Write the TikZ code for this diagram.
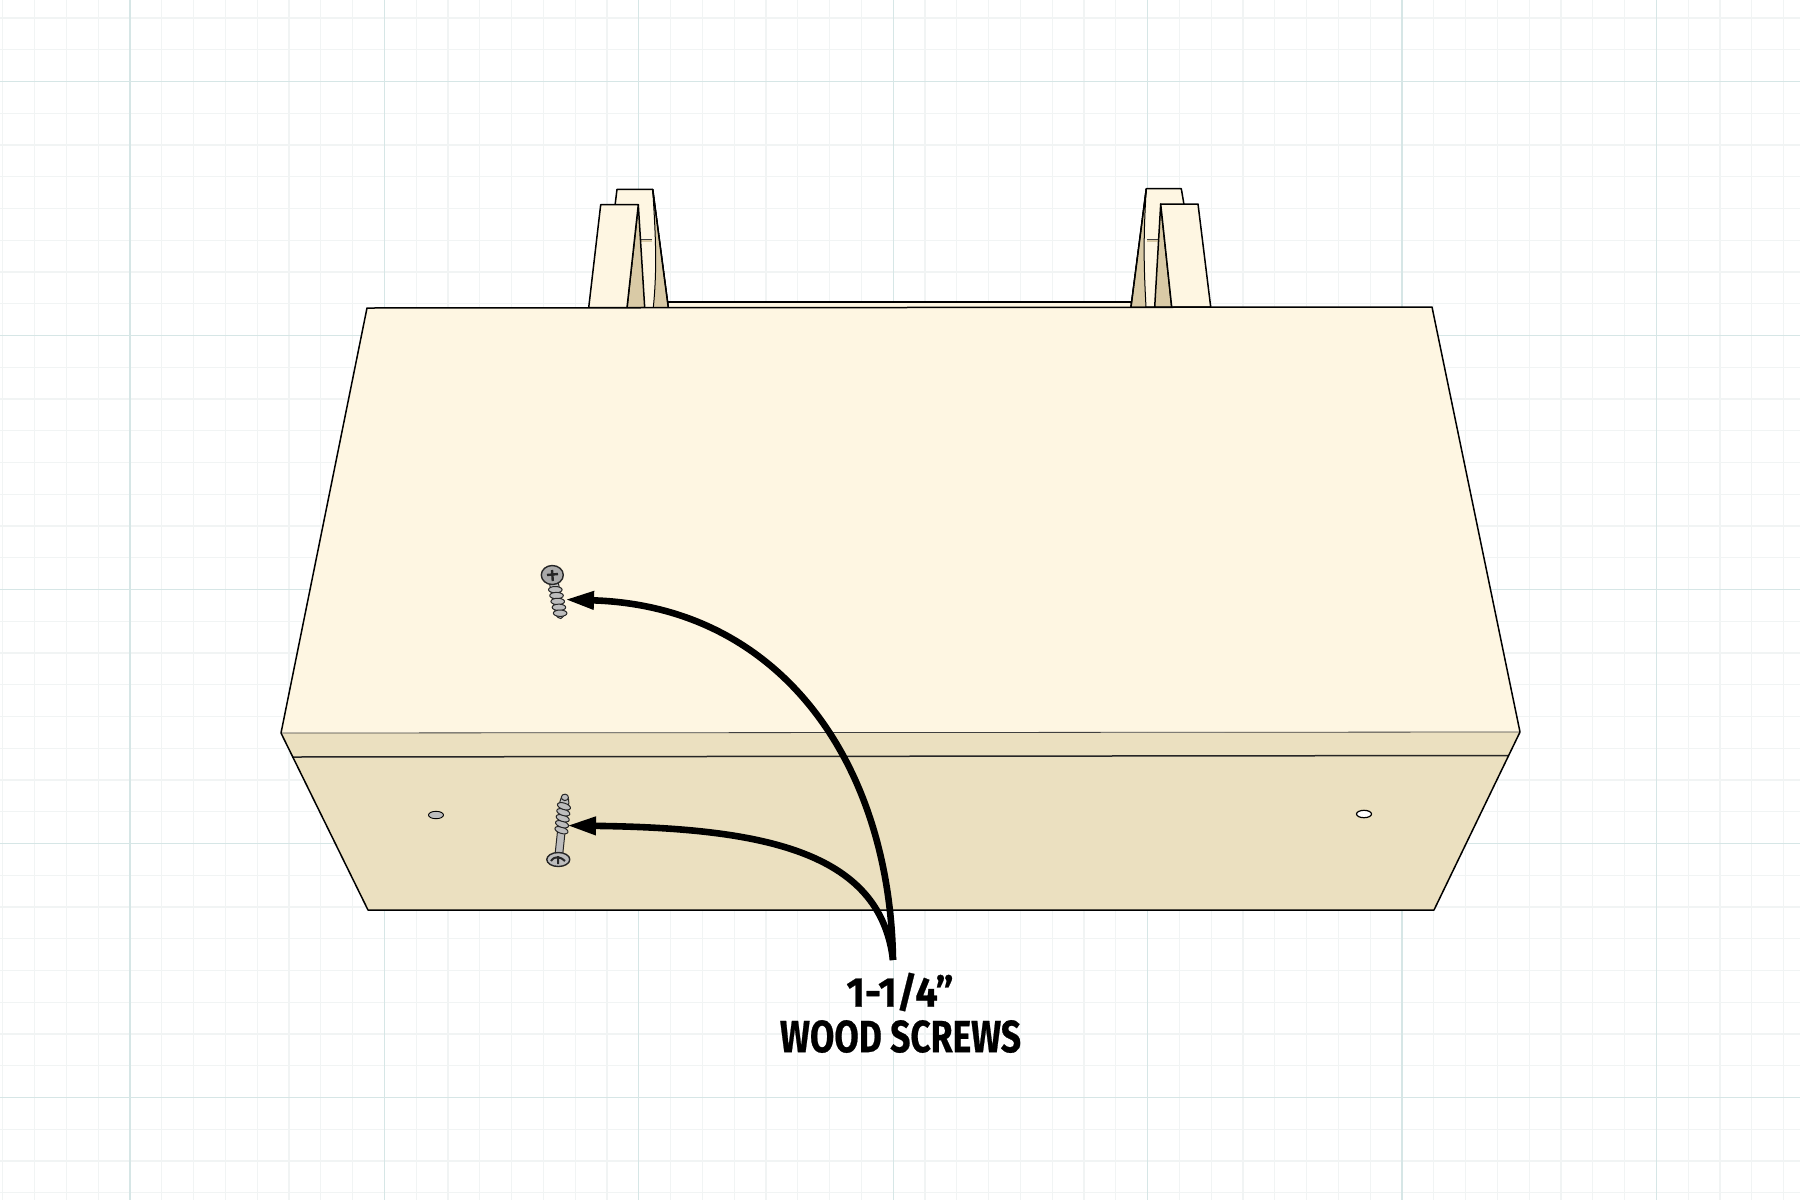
\documentclass[tikz,border=0pt]{standalone}
\usepackage{fontspec}
\usepackage{graphicx}
\setmainfont{Fira Sans}
\newfontfamily\labelfont{Fira Sans}[UprightFont=* Bold,FakeBold=0.6]
\usetikzlibrary{arrows.meta}
\definecolor{topface}{HTML}{FEF6E2}
\definecolor{frontface}{HTML}{EBE0C0}
\definecolor{sideface}{HTML}{D9CAA6}
\definecolor{gridmajor}{HTML}{D6E6E6}
\definecolor{gridminor}{HTML}{F1F4F4}
\definecolor{steel}{HTML}{BDBDBD}
\definecolor{steelhead}{HTML}{A9A9A9}
\tikzset{
  edge/.style={draw=black,line width=0.75pt,line join=round},
  softedge/.style={draw=black!75,line width=0.4pt},
  minorline/.style={draw=gridminor,line width=0.6pt},
  majorline/.style={draw=gridmajor,line width=0.6pt},
  callout/.style={draw=black,line width=3.3pt,-{Triangle[length=14.5pt,width=8.5pt]}},
  screwpart/.style={draw=black!85,fill=steel,line width=0.5pt,line join=round},
  labeltext/.style={inner sep=0pt,font=\labelfont}
}
\newcommand{\threadsat}[1]{%
  \foreach \v in {#1}{
    \draw[screwpart,rotate around={-12:(0,\v)}] (0,\v) ellipse (6.8 and 3.2);
  }}
\begin{document}
\begin{tikzpicture}[x=0.5pt,y=-0.5pt]
\useasboundingbox[fill=white] (0,0) rectangle (1800,1200);
% grid
\foreach \k in {-4,...,52}{\draw[minorline] ({130+31.8*\k},0) -- ({130+31.8*\k},1200);}
\foreach \k in {-2,...,35}{\draw[minorline] (0,{81.5+31.75*\k}) -- (1800,{81.5+31.75*\k});}
\foreach \k in {0,...,6}{\draw[majorline] ({130+254.4*\k},0) -- ({130+254.4*\k},1200);}
\foreach \k in {0,...,4}{\draw[majorline] (0,{81.5+254*\k}) -- (1800,{81.5+254*\k});}
% rail behind
\draw[edge,fill=topface] (660,302) rectangle (1140,309);
% left support: rear piece
\draw[edge,fill=topface] (612,230) -- (617,189.3) -- (652.7,189.3) -- (668.3,307.7) -- (640,307.7) -- cycle;
\fill[topface] (640,241) rectangle (654,307);
\fill[sideface] (641,239) rectangle (651.5,241.5);
\draw[softedge] (641,239.5) -- (651.5,239.5);
\draw[edge,fill=sideface,line width=0.5pt] (652.7,189.3) .. controls (656,240) and (657,270) .. (653.3,307.7) -- (668.3,307.7) -- cycle;
\draw[edge] (652.7,189.3) -- (668.3,307.7);
% left support: front piece
\draw[edge,fill=sideface] (638.3,204.7) -- (644.7,307.7) -- (627,307.7) -- cycle;
\draw[edge,fill=topface] (600.7,204.7) -- (638.3,204.7) -- (627,307.7) -- (588.7,307.7) -- cycle;
% right support: rear piece
\draw[edge,fill=topface] (1146.3,188.7) -- (1181.3,188.7) -- (1190,240) -- (1170,307) -- (1131,307) -- cycle;
\fill[sideface] (1147,238.5) rectangle (1159,241.5);
\draw[softedge] (1147,239) -- (1159,239);
\draw[edge,fill=sideface,line width=0.5pt] (1146.3,188.7) .. controls (1143,240) and (1144,270) .. (1146,307) -- (1131,307) -- cycle;
\draw[edge] (1146.3,188.7) -- (1131,307);
% right support: front piece
\draw[edge,fill=sideface] (1160.7,204) -- (1171.7,307) -- (1154.7,307) -- cycle;
\draw[edge,fill=topface] (1160.7,204) -- (1198,204) -- (1210.7,307) -- (1171.7,307) -- cycle;
% box
\fill[frontface] (281,733) -- (1520,732) -- (1434,910) -- (368,910) -- cycle;
\fill[topface] (367,308) -- (1432,307) -- (1520,732) -- (281,733) -- cycle;
\draw[softedge] (281,733) -- (1520,732);
\draw[edge,draw=black!85] (292,757) -- (1508,755.5);
\draw[edge] (281,733) -- (367,308) -- (1432,307) -- (1520,732) -- (1434,910) -- (368,910) -- cycle;
% holes
\draw[draw=black,fill=steel,line width=0.45pt] (436,815) ellipse (7.5 and 3.7);
\draw[draw=black,fill=white,line width=0.6pt] (1364,814) ellipse (7.5 and 3.7);
% upper screw
\begin{scope}[shift={(552.3,575)},rotate=11.6]
  \draw[screwpart] (-4.5,0) -- (-4.5,38) .. controls (-4,46) and (3,47) .. (4,38) -- (4.5,0) -- cycle;
  \threadsat{15,21,27,33,39}
\end{scope}
\draw[screwpart,fill=steelhead,line width=0.7pt] (552.3,575) ellipse (11 and 9.5);
\draw[draw=black!85,line width=1.2pt] (547,575) -- (558,574) (552,570) -- (552.8,581);
% lower screw
\begin{scope}[shift={(558.3,860)},rotate=174]
  \draw[screwpart] (-3.8,0) -- (-3.8,30) -- (-4.5,58) .. controls (-3.5,68) and (3.5,68) .. (4.5,58) -- (3.8,30) -- (3.8,0) -- cycle;
  \threadsat{30,36,42,48,54}
  \draw[screwpart] (0,63) ellipse (3.6 and 3.2);
\end{scope}
\draw[screwpart,line width=0.7pt] (558.3,859.5) ellipse (11.5 and 7);
\draw[draw=black!85,line width=1pt] (551,861) .. controls (555,855) and (561,857) .. (565,861) (558,856) -- (558,864);
% named ends of the callouts
\coordinate (screwtop) at (565,599.5);
\coordinate (screwlow) at (567,825.5);
\coordinate (calloutfoot) at (893,960);
\draw[callout] (calloutfoot) .. controls (890,765) and (782,606) .. (screwtop);
\draw[callout] (calloutfoot) .. controls (880,850) and (760,828) .. (screwlow);
% label
\node[labeltext] (sizelabel) at (900,992) {\resizebox{53.5pt}{17pt}{1-1/4”}};
\node[labeltext] (namelabel) at (900.5,1036.5) {\resizebox{120.5pt}{16pt}{WOOD SCREWS}};
\end{tikzpicture}
\end{document}
